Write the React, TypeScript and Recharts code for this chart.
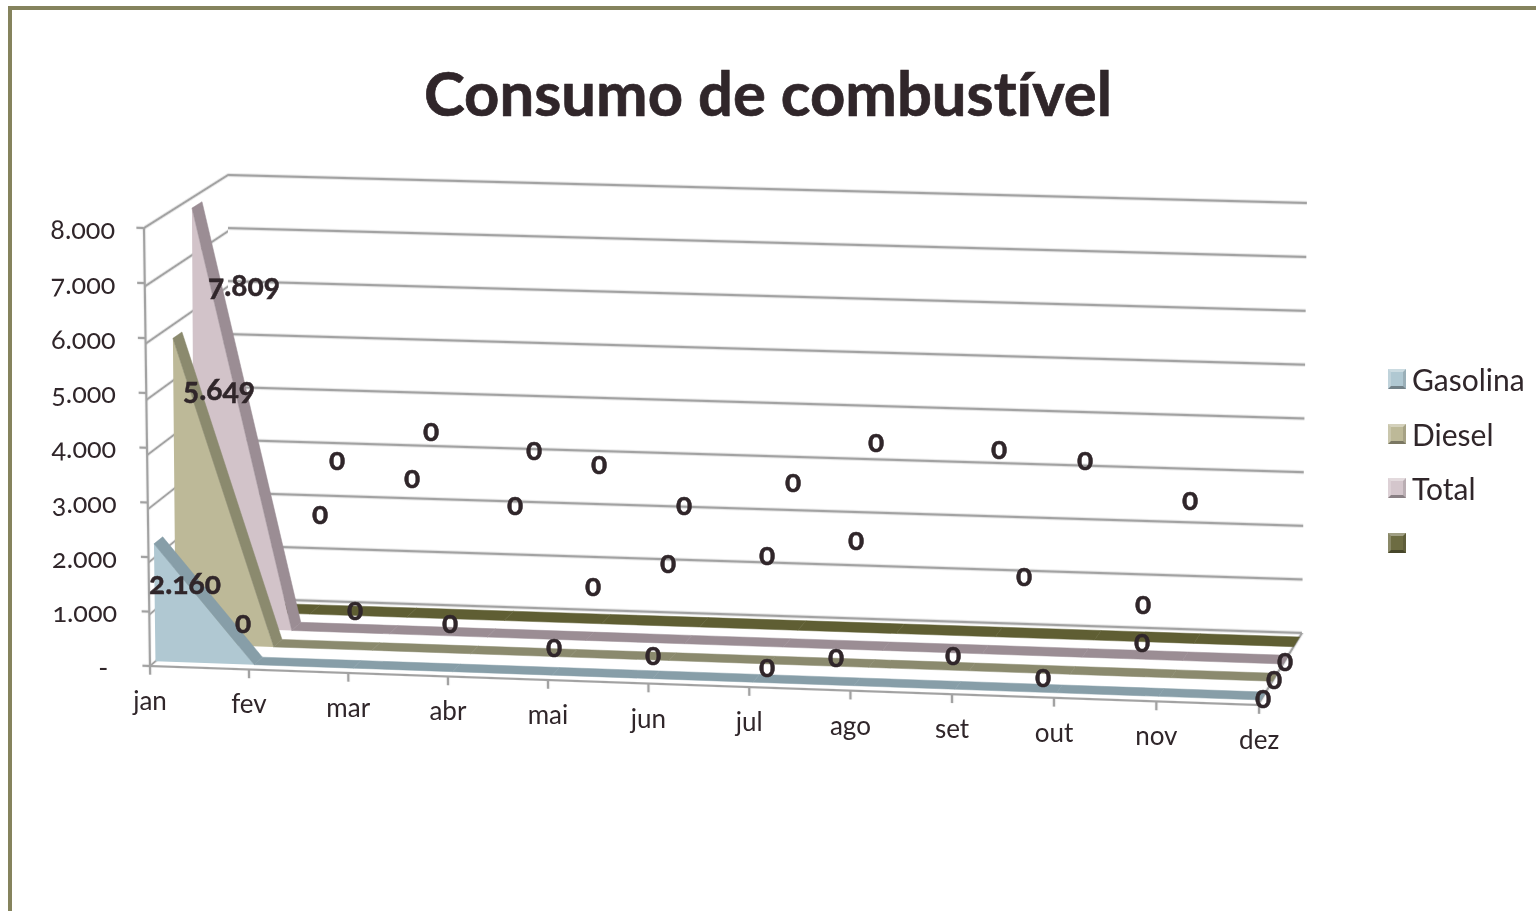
import { Area, AreaChart, CartesianGrid, Legend, Line, LineChart, XAxis, YAxis } from 'recharts'

const months = ['jan', 'fev', 'mar', 'abr', 'mai', 'jun', 'jul', 'ago', 'set', 'out', 'nov', 'dez']
const gasolina = [2160, 0, 0, 0, 0, 0, 0, 0, 0, 0, 0, 0]
const diesel = [5649, 0, 0, 0, 0, 0, 0, 0, 0, 0, 0, 0]
const total = [7809, 0, 0, 0, 0, 0, 0, 0, 0, 0, 0, 0]
const semNome = [0, 0, 0, 0, 0, 0, 0, 0, 0, 0, 0, 0]
const valueTicks = [0, 1000, 2000, 3000, 4000, 5000, 6000, 7000, 8000]

const table = months.map((mes, i) => ({
  mes,
  gasolina: gasolina[i],
  diesel: diesel[i],
  total: total[i],
  semNome: semNome[i],
}))

// the data labels were dragged around by hand in the original, so they sit at page positions
const gasolinaSpots = [[185, 585], [243, 624], [355, 611], [450, 624], [554, 648], [653, 656], [767, 668], [836, 658], [953, 656], [1043, 678], [1142, 643], [1263, 699]]
const dieselSpots = [[219, 391], [320, 515], [412, 479], [515, 506], [593, 587], [668, 564], [767, 556], [856, 541], null, [1024, 577], [1143, 605], [1274, 680]]
const totalSpots = [[244, 287], [337, 461], [431, 432], [534, 451], [599, 465], [684, 506], [793, 483], [876, 443], [999, 450], [1085, 461], [1190, 501], [1285, 662]]

const W = 1000
const H = 400
const PAD = 40 // room around each plot so axis lines stay inside the svg
const FONT = 'Lato, sans-serif'
const INK = '#30262a'
const GRID = '#a2a2a2'

type Pt = [number, number]
type Quad = [Pt, Pt, Pt, Pt] // top-left, top-right, bottom-right, bottom-left

const frontQuad: Quad = [[144, 228], [1260, 258], [1258, 705], [150, 666]]
const backQuad: Quad = [[228, 175], [1307, 203], [1302, 633], [228, 598]]
const leftQuad: Quad = [frontQuad[0], backQuad[0], backQuad[3], frontQuad[3]]
const floorQuad: Quad = [backQuad[3], backQuad[2], frontQuad[2], frontQuad[3]]

const depthQuad = (t: number): Quad =>
  frontQuad.map((p, i) => [
    p[0] + (backQuad[i][0] - p[0]) * t,
    p[1] + (backQuad[i][1] - p[1]) * t,
  ]) as Quad

// unit square -> quad
function homography(q: Quad) {
  const [[x0, y0], [x1, y1], [x2, y2], [x3, y3]] = q
  const dx1 = x1 - x2
  const dx2 = x3 - x2
  const sx = x0 - x1 + x2 - x3
  const dy1 = y1 - y2
  const dy2 = y3 - y2
  const sy = y0 - y1 + y2 - y3
  const den = dx1 * dy2 - dx2 * dy1
  const g = (sx * dy2 - dx2 * sy) / den
  const h = (dx1 * sy - sx * dy1) / den
  return {
    a: x1 - x0 + g * x1,
    b: x3 - x0 + h * x3,
    c: x0,
    d: y1 - y0 + g * y1,
    e: y3 - y0 + h * y3,
    f: y0,
    g,
    h,
  }
}

function project(q: Quad, x: number, y: number): Pt {
  const m = homography(q)
  const u = (x - PAD) / W
  const v = (y - PAD) / H
  const w = m.g * u + m.h * v + 1
  return [(m.a * u + m.b * v + m.c) / w, (m.d * u + m.e * v + m.f) / w]
}

// the faces only rise between jan and fev, a flat plane fitted to that stretch draws cleaner
// than a perspective layer
function faceQuad(t: number): Quad {
  const q = depthQuad(t)
  const steps = months.length - 1
  const top = project(q, PAD, PAD)
  const foot = project(q, PAD, PAD + H)
  const fev = project(q, PAD + W / steps, PAD + H)
  const dx = (fev[0] - foot[0]) * steps
  const dy = (fev[1] - foot[1]) * steps
  return [top, [top[0] + dx, top[1] + dy], [foot[0] + dx, foot[1] + dy], foot]
}

function planeStyle(q: Quad): React.CSSProperties {
  const m = homography(q)
  const flat = Math.abs(m.g) < 1e-9 && Math.abs(m.h) < 1e-9
  const transform = flat
    ? `matrix(${m.a / W},${m.d / W},${m.b / H},${m.e / H},${m.c},${m.f})`
    : `matrix3d(${[m.a / W, m.d / W, 0, m.g / W, m.b / H, m.e / H, 0, m.h / H, 0, 0, 1, 0, m.c, m.f, 0, 1].join(',')})`
  return { position: 'absolute', left: -PAD, top: -PAD, transformOrigin: `${PAD}px ${PAD}px`, transform }
}

const layer: React.CSSProperties = { position: 'absolute', left: 0, top: 0 }
const chartProps = { width: W + 2 * PAD, height: H + 2 * PAD, data: table, margin: { top: PAD, right: PAD, bottom: PAD, left: PAD } }
const axisChartProps = { ...chartProps, margin: { top: PAD, right: PAD - 1, bottom: PAD - 1, left: PAD - 1 } }
const hiddenAxes = [
  <XAxis key="x" dataKey="mes" hide />,
  <YAxis key="y" domain={[0, 8000]} ticks={valueTicks} hide />,
]
// walls have no marks of their own, the axes still need a series to get a domain
const ghost = <Area dataKey="total" stroke="none" fill="none" isAnimationActive={false} />
const noLabel = () => <g />

const seriesList = [
  { key: 'semNome', name: ' ', face: '#5f5e33', top: '#5f5e33', swatch: '#6d6c42', from: 0.81, to: 0.945 },
  { key: 'total', name: 'Total', face: '#d2c3c9', top: '#9b8d94', swatch: '#d4c6cc', from: 0.57, to: 0.69 },
  { key: 'diesel', name: 'Diesel', face: '#bdb998', top: '#8b8a6e', swatch: '#bdb998', from: 0.33, to: 0.44 },
  { key: 'gasolina', name: 'Gasolina', face: '#b0c8d2', top: '#879ea8', swatch: '#b0c8d2', from: 0.07, to: 0.18 },
]

const formatValue = (v: number) => String(v).replace(/\B(?=(\d{3})+$)/g, '.')

function stripDot(from: number, to: number, color: string) {
  const near = depthQuad(from)
  const far = depthQuad(to)
  return (props: any) => {
    const { index, cx, cy, points } = props
    const next = points?.[index + 1]
    if (!next) return <g key={index} />
    const corners = [
      project(near, cx, cy),
      project(near, next.x, next.y),
      project(far, next.x, next.y),
      project(far, cx, cy),
    ]
    return <polygon key={index} points={corners.map(p => p.join(',')).join(' ')} fill={color} stroke={color} strokeWidth={0.5} />
  }
}

function spotLabel(spots: (number[] | null)[]) {
  return (props: any) => {
    const spot = spots[props.index]
    if (!spot) return <g key={props.index} />
    return (
      <text key={props.index} x={spot[0]} y={spot[1] - 3} textAnchor="middle" dominantBaseline="central"
        fontFamily={FONT} fontWeight={700} fontSize={30} fill={INK} stroke={INK} strokeWidth={0.5} style={{ fontFeatureSettings: '"onum"' }}>
        {formatValue(props.value)}
      </text>
    )
  }
}

function MonthTick({ x, payload }: any) {
  const [px, py] = project(frontQuad, x, H + PAD)
  return (
    <text x={px} y={py + 34} textAnchor="middle" dominantBaseline="central" fontFamily={FONT} fontSize={26} fill={INK}>
      {payload.value}
    </text>
  )
}

function ValueTick({ y, payload }: any) {
  const [px, py] = project(frontQuad, PAD, y)
  const right = 115 + (px - 144) * 0.4
  return (
    <text x={payload.value === 0 ? right - 9 : right} y={py} textAnchor="end" dominantBaseline="central" fontFamily={FONT} fontSize={27} fill={INK}
      style={{ fontFeatureSettings: '"onum"' }}>
      {payload.value === 0 ? '-' : formatValue(payload.value)}
    </text>
  )
}

function LegendList({ payload }: any) {
  return (
    <div>
      {payload.map((entry: any) => (
        <div key={entry.dataKey} style={{ display: 'flex', alignItems: 'center', height: 54.5, fontFamily: FONT, fontSize: 30, color: INK }}>
          <span style={{
            width: 12,
            height: 14,
            marginRight: 6,
            background: entry.color,
            borderStyle: 'solid',
            borderWidth: 3,
            borderColor: 'rgba(255,255,255,0.35) rgba(0,0,0,0.12) rgba(0,0,0,0.35) rgba(255,255,255,0.2)',
          }} />
          {entry.value}
        </div>
      ))}
    </div>
  )
}

export default function App() {
  return (
    <div style={{ position: 'absolute', left: 0, top: 0, width: 1536, height: 911, overflow: 'hidden', background: '#fff' }}>
      <style>{'.recharts-surface{overflow:visible}'}</style>
      <div style={{ position: 'absolute', left: 8, top: 6, width: 1600, height: 1000, borderLeft: '4px solid #85835d', borderTop: '4px solid #85835d' }} />
      <div style={{ position: 'absolute', left: 0, top: 54, width: 1536, textAlign: 'center', fontFamily: FONT, fontWeight: 700, fontSize: 61.6, lineHeight: '76px', color: INK, fontVariantLigatures: 'none', WebkitTextStroke: `0.7px ${INK}` }}>
        Consumo de combustível
      </div>

      <div style={planeStyle(backQuad)}>
        <AreaChart {...chartProps}>
          {hiddenAxes}
          <CartesianGrid vertical={false} stroke={GRID} strokeWidth={2.4} />
          {ghost}
        </AreaChart>
      </div>
      <div style={planeStyle(leftQuad)}>
        <AreaChart {...chartProps}>
          {hiddenAxes}
          <CartesianGrid vertical={false} stroke={GRID} strokeWidth={2.4} />
          {ghost}
        </AreaChart>
      </div>
      <div style={planeStyle(floorQuad)}>
        <AreaChart {...axisChartProps}>
          <XAxis dataKey="mes" hide />
          <YAxis orientation="right" width={1} domain={[0, 8000]} ticks={valueTicks} tick={false} tickLine={false} stroke={GRID} strokeWidth={2.4} />
          {ghost}
        </AreaChart>
      </div>

      {seriesList.map(s => (
        <div key={s.key}>
          <div style={planeStyle(faceQuad(s.from))}>
            <AreaChart {...chartProps}>
              {hiddenAxes}
              <Area type="linear" dataKey={s.key} fill={s.face} fillOpacity={1} stroke="none" isAnimationActive={false} />
            </AreaChart>
          </div>
          <div style={layer}>
            <LineChart {...chartProps}>
              {hiddenAxes}
              <Line type="linear" dataKey={s.key} stroke="none" dot={stripDot(s.from, s.to, s.top)} activeDot={false} isAnimationActive={false} />
            </LineChart>
          </div>
        </div>
      ))}

      <div style={planeStyle(frontQuad)}>
        <AreaChart {...axisChartProps}>
          <XAxis dataKey="mes" height={1} interval={0} tick={noLabel} tickSize={8} stroke={GRID} strokeWidth={2.2} />
          <YAxis width={1} domain={[0, 8000]} ticks={valueTicks} interval={0} tick={noLabel} tickSize={7} stroke={GRID} strokeWidth={2.2} />
          {ghost}
        </AreaChart>
      </div>

      <div style={layer}>
        <LineChart {...axisChartProps}>
          <XAxis dataKey="mes" height={1} interval={0} axisLine={false} tickLine={false} tick={MonthTick} />
          <YAxis width={1} domain={[0, 8000]} ticks={valueTicks} interval={0} axisLine={false} tickLine={false} tick={ValueTick} />
          <Line dataKey="gasolina" stroke="none" dot={false} activeDot={false} label={spotLabel(gasolinaSpots)} isAnimationActive={false} />
          <Line dataKey="diesel" stroke="none" dot={false} activeDot={false} label={spotLabel(dieselSpots)} isAnimationActive={false} />
          <Line dataKey="total" stroke="none" dot={false} activeDot={false} label={spotLabel(totalSpots)} isAnimationActive={false} />
        </LineChart>
      </div>

      <div style={layer}>
        <LineChart width={1536} height={911} data={[]}>
          <Legend
            layout="vertical"
            align="right"
            verticalAlign="top"
            itemSorter={null}
            content={LegendList}
            wrapperStyle={{ left: 1388, top: 352, width: 148, right: 'auto' }}
          />
          {[...seriesList].reverse().map(s => (
            <Line key={s.key} dataKey={s.key} name={s.name} stroke={s.swatch} isAnimationActive={false} />
          ))}
        </LineChart>
      </div>
    </div>
  )
}
